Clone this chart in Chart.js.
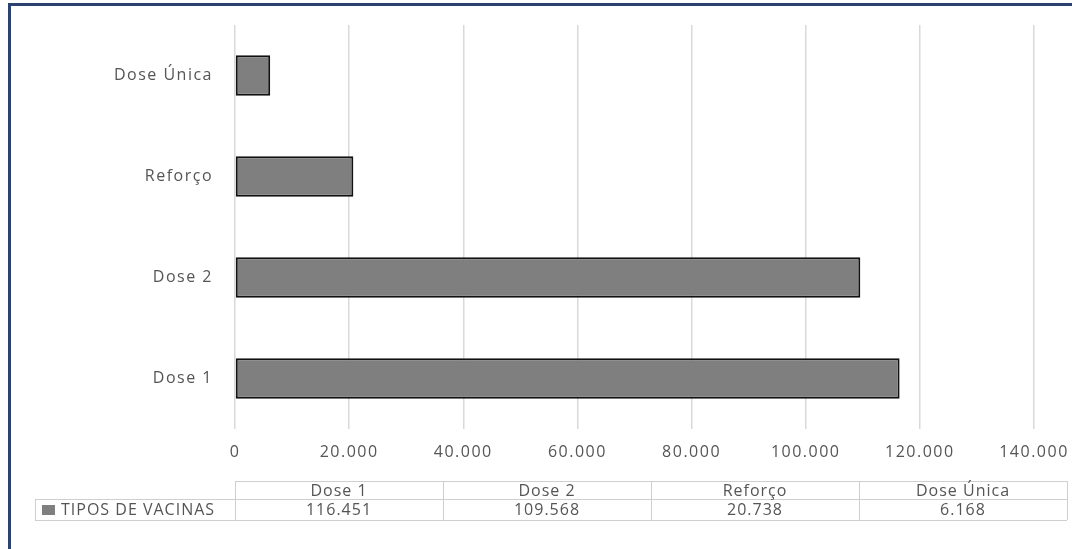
<!DOCTYPE html>
<html>
<head>
<meta charset="utf-8">
<script src="https://cdn.jsdelivr.net/npm/chart.js@4"></script>
<style>
  body { margin: 0; background: #fff; }
  #wrap { position: relative; width: 1072px; height: 549px; overflow: hidden; }
  #frame { position: absolute; left: 8px; top: 3px; right: -10px; bottom: -10px;
           border-top: 3px solid #2c4372; border-left: 3px solid #2c4372; }
  canvas { position: absolute; left: 0; top: 0; }
</style>
</head>
<body>
<div id="wrap">
  <canvas id="chart" width="1072" height="549"></canvas>
  <div id="frame"></div>
</div>
<script>
// Vaccine doses by type
const categories = ["Dose 1", "Dose 2", "Reforço", "Dose Única"];
const doses = [116451, 109568, 20738, 6168];
const seriesName = "TIPOS DE VACINAS";
const xTicks = [0, 20000, 40000, 60000, 80000, 100000, 120000, 140000];

const textColor = "#555555";
const fontFamily = "'Open Sans', 'DejaVu Sans', sans-serif";

// pt-BR style thousands separator
function fmt(v) {
  return String(v).replace(/\B(?=(\d{3})+(?!\d))/g, ".");
}

// spaced-out lettering like the original
const spacing = {
  id: "spacing",
  beforeDraw(chart) { chart.ctx.letterSpacing = "1.5px"; },
  afterDraw(chart) { chart.ctx.letterSpacing = "0px"; },
};

// data table under the chart
const dataTable = {
  id: "dataTable",
  afterDraw(chart) {
    const ctx = chart.ctx;
    const left = chart.scales.x.left;
    const colW = 208;
    const right = left + colW * categories.length;
    const top = 481, mid = 499, bottom = 520, labelLeft = 35;

    ctx.save();
    ctx.strokeStyle = "#cfcfcf";
    ctx.lineWidth = 1;
    ctx.beginPath();
    ctx.moveTo(left, top + 0.5); ctx.lineTo(right, top + 0.5);
    ctx.moveTo(labelLeft, mid + 0.5); ctx.lineTo(right, mid + 0.5);
    ctx.moveTo(labelLeft, bottom + 0.5); ctx.lineTo(right, bottom + 0.5);
    ctx.moveTo(labelLeft + 0.5, mid); ctx.lineTo(labelLeft + 0.5, bottom);
    for (let i = 0; i <= categories.length; i++) {
      const x = Math.round(left + colW * i) + 0.5;
      ctx.moveTo(x, top); ctx.lineTo(x, bottom);
    }
    ctx.stroke();

    ctx.letterSpacing = "1px";
    ctx.font = "16px " + fontFamily;
    ctx.fillStyle = textColor;
    ctx.textAlign = "center";
    ctx.textBaseline = "middle";
    categories.forEach((c, i) => {
      const cx = left + colW * i + colW / 2;
      ctx.fillText(c, cx, (top + mid) / 2 + 1);
      ctx.fillText(fmt(doses[i]), cx, (mid + bottom) / 2 + 1);
    });

    ctx.fillStyle = "#7f7f7f";
    ctx.fillRect(42, 505, 13, 10);
    ctx.fillStyle = textColor;
    ctx.textAlign = "left";
    ctx.letterSpacing = "1px";
    ctx.fillText(seriesName, 61, (mid + bottom) / 2 + 1);
    ctx.restore();
  },
};

new Chart(document.getElementById("chart"), {
  type: "bar",
  data: {
    labels: categories,
    datasets: [{
      label: seriesName,
      data: doses,
      backgroundColor: "#7f7f7f",
      borderColor: "#111111",
      borderWidth: 2,
      borderSkipped: false,
      barPercentage: 0.4,
      categoryPercentage: 1,
    }],
  },
  options: {
    indexAxis: "y",
    responsive: false,
    animation: false,
    devicePixelRatio: 1,
    layout: { padding: { top: 25, right: 38, bottom: 80, left: 0 } },
    plugins: { legend: { display: false }, tooltip: { enabled: false } },
    scales: {
      x: {
        min: 0,
        max: 140000,
        afterBuildTicks: (s) => { s.ticks = xTicks.map((v) => ({ value: v })); },
        afterFit: (s) => { s.height = 40; s.paddingLeft = 0; s.paddingRight = 0; },
        grid: { color: "#d9d9d9", lineWidth: 1.5, drawTicks: false },
        border: { display: false },
        ticks: {
          color: textColor,
          font: { family: fontFamily, size: 16 },
          padding: 14,
          maxRotation: 0,
          callback: (v) => fmt(v),
        },
      },
      y: {
        reverse: true,
        afterFit: (s) => { s.width = 235; },
        grid: { display: false },
        border: { display: false },
        ticks: {
          color: textColor,
          font: { family: fontFamily, size: 16 },
          padding: 14,
        },
      },
    },
  },
  plugins: [spacing, dataTable],
});
</script>
</body>
</html>
